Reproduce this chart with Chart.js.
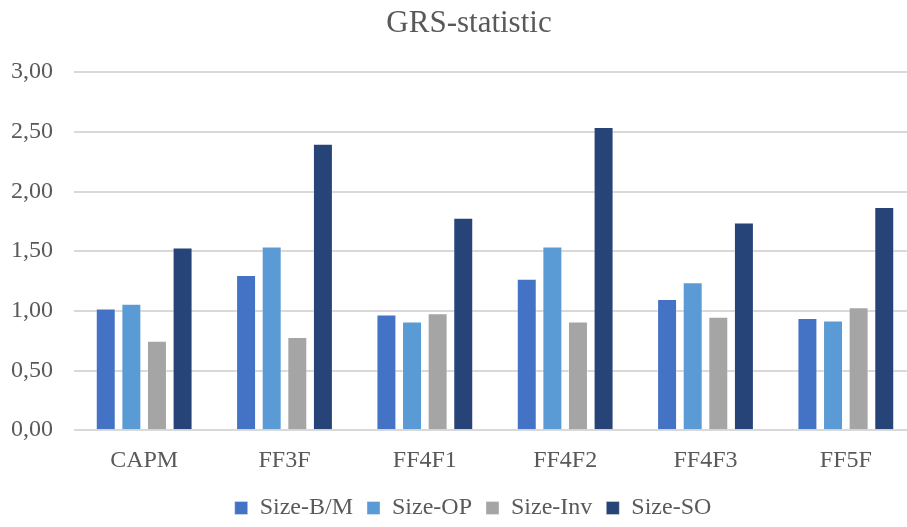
<!DOCTYPE html>
<html>
<head>
<meta charset="utf-8">
<script src="https://cdn.jsdelivr.net/npm/chart.js@4"></script>
<style>
  html, body { margin: 0; padding: 0; background: #fff; overflow: hidden; }
  #wrap { width: 944px; height: 527px; }
</style>
</head>
<body>
<div id="wrap"><canvas id="grs"></canvas></div>
<script>
var modelos = ["CAPM", "FF3F", "FF4F1", "FF4F2", "FF4F3", "FF5F"];
var sizeBM = [1.02, 1.30, 0.97, 1.27, 1.10, 0.94];
var sizeOP = [1.06, 1.54, 0.91, 1.54, 1.24, 0.92];
var sizeInv = [0.75, 0.78, 0.98, 0.91, 0.95, 1.03];
var sizeSO = [1.53, 2.40, 1.78, 2.54, 1.74, 1.87];

function serie(label, data, cor) {
  return {
    label: label,
    data: data,
    backgroundColor: cor,
    borderColor: "rgba(255,255,255,0.35)",
    borderWidth: 1,
    categoryPercentage: 0.73,
    barPercentage: 0.78,
  };
}

// o grafico original foi cortado a direita, entao titulo e legenda ficam um pouco deslocados
const deslocar = {
  id: "deslocar",
  afterLayout: function (chart) {
    if (chart.titleBlock) {
      chart.titleBlock.left += 6;
      chart.titleBlock.right += 6;
    }
    if (chart.legend) {
      chart.legend.left += 10;
      chart.legend.right += 10;
    }
  },
};

const config = {
  type: "bar",
  data: {
    labels: modelos,
    datasets: [
      serie("Size-B/M", sizeBM, "#4472C4"),
      serie("Size-OP", sizeOP, "#5B9BD5"),
      serie("Size-Inv", sizeInv, "#A5A5A5"),
      serie("Size-SO", sizeSO, "#264478"),
    ],
  },
  options: {
    responsive: true,
    maintainAspectRatio: false,
    animation: { duration: 0 },
    layout: { padding: { left: 10, right: 28, top: 5, bottom: -3 } },
    plugins: {
      title: {
        display: true,
        text: "GRS-statistic",
        color: "#595959",
        font: { family: "Liberation Serif", size: 31, weight: "normal" },
        padding: { top: 0, bottom: 30 },
      },
      legend: {
        position: "bottom",
        labels: {
          color: "#595959",
          font: { family: "Liberation Serif", size: 24 },
          boxWidth: 13,
          boxHeight: 13,
          padding: 14,
        },
      },
      tooltip: { enabled: false },
    },
    scales: {
      x: {
        grid: { display: false, drawTicks: false },
        border: { display: false },
        ticks: {
          color: "#595959",
          font: { family: "Liberation Serif", size: 24 },
          padding: 16,
        },
        afterFit: function (escala) {
          escala.height -= 9;
        },
      },
      y: {
        min: 0,
        max: 3,
        border: { display: false },
        grid: { color: "#d9d9d9", lineWidth: 2, drawTicks: false },
        ticks: {
          stepSize: 0.5,
          color: "#595959",
          font: { family: "Liberation Serif", size: 24 },
          padding: 21,
          callback: function (v) {
            return v.toFixed(2).replace(".", ",");
          },
        },
        afterFit: function (escala) {
          escala.width = 64;
        },
      },
    },
  },
  plugins: [deslocar],
};

new Chart(document.getElementById("grs"), config);
</script>
</body>
</html>
